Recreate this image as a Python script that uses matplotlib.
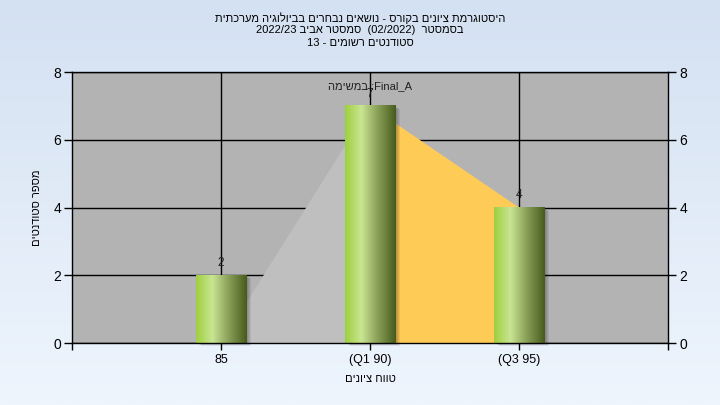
import numpy as np
import matplotlib
matplotlib.use('Agg')
import matplotlib.pyplot as plt
from matplotlib.colors import LinearSegmentedColormap
from matplotlib.patches import Rectangle, Polygon
from matplotlib.transforms import ScaledTranslation

# נתונים
categories = ['85', '(Q1 90)', '(Q3 95)']
counts = [2, 7, 4]
area_values = [0, 7, 4]
title_lines = [
    'היסטוגרמת ציונים בקורס - נושאים נבחרים בביולוגיה מערכתית',
    'בסמסטר  (02/2022)  סמסטר אביב 2022/23',
    'סטודנטים רשומים - 13',
]
series_label = 'Final_A'
y_label = 'מספר סטודנטים'
x_label = 'טווח ציונים'


def heb(s):
    # matplotlib has no bidi support: reverse the Hebrew text for display
    return s[::-1]


plt.rcParams['font.family'] = ['Liberation Sans', 'DejaVu Sans']

fig = plt.figure(figsize=(7.2, 4.05), dpi=100)

# רקע מדורג
bg = fig.add_axes([0, 0, 1, 1], zorder=-10)
grad = np.linspace(0, 1, 256).reshape(-1, 1)
bg_cmap = LinearSegmentedColormap.from_list('bg', ['#d4e1f2', '#eef5fd'])
bg.imshow(grad, aspect='auto', cmap=bg_cmap, extent=[0, 1, 0, 1], origin='upper')
bg.axis('off')

ax = fig.add_axes([0.1, 0.153, 0.8278, 0.669])
ax.set_facecolor('#b3b3b3')
ax.set_xlim(-1, 3)
ax.set_ylim(0, 8)

x = np.arange(len(categories))

# שטח ברקע
ax.add_patch(Polygon([(x[0], 0), (x[0], area_values[0]), (x[1], area_values[1]), (x[1], 0)],
                     closed=True, facecolor='#bfbfbf', edgecolor='none', zorder=1))
ax.add_patch(Polygon([(x[1], 0), (x[1], area_values[1]), (x[2], area_values[2]), (x[2], 0)],
                     closed=True, facecolor='#fecb57', edgecolor='none', zorder=1))

# עמודות עם צל ומילוי מדורג
bar_w = 0.34
bar_cmap = LinearSegmentedColormap.from_list(
    'bar', [(0, '#9fcf3f'), (0.32, '#c9e592'), (0.62, '#8ea45c'), (1, '#475c1c')])
hgrad = np.linspace(0, 1, 128).reshape(1, -1)
for xi, c in zip(x, counts):
    for k in range(1, 6):
        off = ScaledTranslation(k / 100, -k * 0.6 / 100, fig.dpi_scale_trans)
        ax.add_patch(Rectangle((xi - bar_w / 2, 0), bar_w, c, facecolor='black',
                               alpha=0.07, edgecolor='none', zorder=1.5,
                               transform=ax.transData + off, clip_on=False))
    ax.imshow(hgrad, aspect='auto', cmap=bar_cmap, zorder=2,
              extent=[xi - bar_w / 2, xi + bar_w / 2, 0, c])
    ax.text(xi, c + 0.18, str(c), ha='center', va='bottom', fontsize=8.5,
            color='#202020', zorder=3)

ax.set_xlim(-1, 3)
ax.set_ylim(0, 8)
ax.set_aspect('auto')

ax.text(1, 7.6, heb('במשימה') + ' :' + series_label, ha='center', va='center',
        fontsize=8, color='#202020', zorder=3)

# רשת וצירים
ax.set_axisbelow(True)
ax.set_xticks(x)
ax.set_xticklabels(categories, fontsize=9)
ax.set_xticks([-1, 3], minor=True)
ax.set_yticks([0, 2, 4, 6, 8])
ax.grid(True, color='black', linewidth=1)
ax.tick_params(axis='y', which='both', direction='out', length=6, labelsize=10,
               right=True, labelright=True, width=1, pad=2)
ax.tick_params(axis='x', which='both', direction='out', length=5, width=1, pad=3)
for sp in ax.spines.values():
    sp.set_color('black')
    sp.set_linewidth(1)

ax.set_ylabel(heb(y_label), fontsize=8, labelpad=8)
ax.set_xlabel(heb(x_label), fontsize=8, labelpad=6)

fig.text(0.5, 0.955, heb(title_lines[0]), ha='center', va='center', fontsize=8)
fig.text(0.5, 0.925, '2022/23 ' + heb('סמסטר אביב') + '  (02/2022)  ' + heb('בסמסטר'),
         ha='center', va='center', fontsize=8)
fig.text(0.5, 0.894, '13 - ' + heb('סטודנטים רשומים'), ha='center', va='center', fontsize=8)

fig.savefig('out.png', dpi=100)
